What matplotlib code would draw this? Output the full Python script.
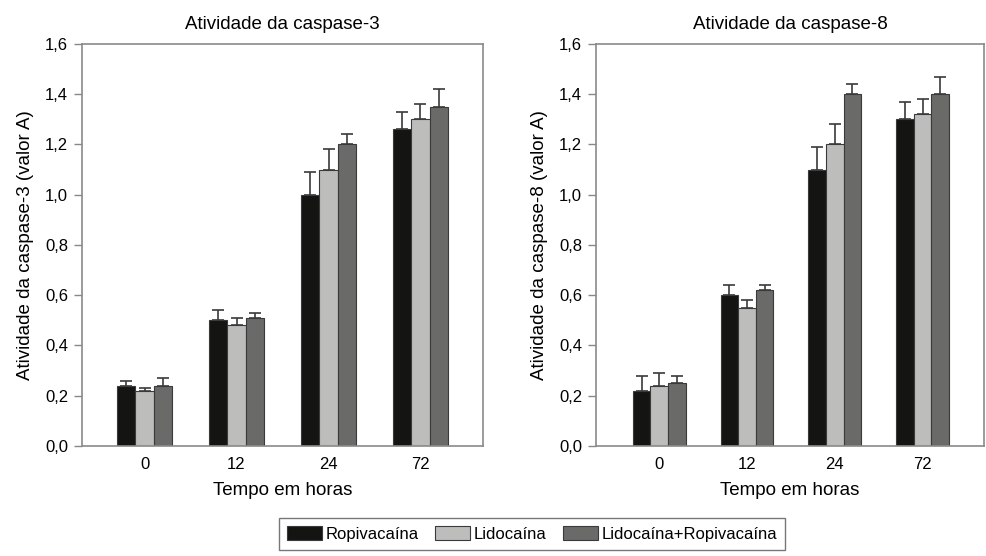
import numpy as np
import matplotlib
matplotlib.use("Agg")
import matplotlib.pyplot as plt

plt.rcParams['font.family'] = ['Liberation Sans', 'DejaVu Sans']

tempos = ['0', '12', '24', '72']
grupos = ['Ropivacaína', 'Lidocaína', 'Lidocaína+Ropivacaína']
cores = ['#141412', '#bdbdbb', '#6a6a68']

# caspase-3 (mean, upper error bar)
c3_ropi = [0.24, 0.50, 1.00, 1.26]
c3_lido = [0.22, 0.48, 1.10, 1.30]
c3_mix = [0.24, 0.51, 1.20, 1.35]
c3_ropi_err = [0.02, 0.04, 0.09, 0.07]
c3_lido_err = [0.01, 0.03, 0.08, 0.06]
c3_mix_err = [0.03, 0.02, 0.04, 0.07]

# caspase-8
c8_ropi = [0.22, 0.60, 1.10, 1.30]
c8_lido = [0.24, 0.55, 1.20, 1.32]
c8_mix = [0.25, 0.62, 1.40, 1.40]
c8_ropi_err = [0.06, 0.04, 0.09, 0.07]
c8_lido_err = [0.05, 0.03, 0.08, 0.06]
c8_mix_err = [0.03, 0.02, 0.04, 0.07]

fig = plt.figure(figsize=(9.86, 5.56), dpi=100)
ax1 = fig.add_axes([0.0832, 0.198, 0.4067, 0.723])
ax2 = fig.add_axes([0.6045, 0.198, 0.3935, 0.723])

x = np.arange(len(tempos))
w = 0.2


def painel(ax, series, erros, titulo, ylabel, xlim):
    for i, (vals, errs) in enumerate(zip(series, erros)):
        ax.bar(x + (i - 1) * w, vals, w, color=cores[i], edgecolor='#3a3a3a',
               linewidth=0.8, label=grupos[i],
               yerr=[np.zeros(len(errs)), errs], capsize=4.5,
               error_kw=dict(ecolor='#3a3a3a', elinewidth=1.2, capthick=1.2))
    ax.set_ylim(0, 1.6)
    ax.set_xlim(*xlim)
    ax.set_yticks(np.arange(0, 1.61, 0.2))
    ax.set_yticklabels([f'{v:.1f}'.replace('.', ',') for v in np.arange(0, 1.61, 0.2)])
    ax.set_xticks(x)
    ax.set_xticklabels(tempos)
    ax.tick_params(axis='x', length=0, labelsize=12, pad=8)
    ax.tick_params(axis='y', length=6, width=1.0, color='#888888', labelsize=12, pad=4)
    for s in ax.spines.values():
        s.set_color('#8a8a8a')
        s.set_linewidth(1.2)
    ax.set_title(titulo, fontsize=13.5, pad=11)
    ax.set_ylabel(ylabel, fontsize=13.5, labelpad=8)
    ax.set_xlabel('Tempo em horas', fontsize=13.5, labelpad=7)


painel(ax1, [c3_ropi, c3_lido, c3_mix], [c3_ropi_err, c3_lido_err, c3_mix_err],
       'Atividade da caspase-3', 'Atividade da caspase-3 (valor A)', (-0.68, 3.68))
painel(ax2, [c8_ropi, c8_lido, c8_mix], [c8_ropi_err, c8_lido_err, c8_mix_err],
       'Atividade da caspase-8', 'Atividade da caspase-8 (valor A)', (-0.72, 3.70))

handles, labels = ax1.get_legend_handles_labels()
leg = fig.legend(handles, labels, loc='upper center', bbox_to_anchor=(0.5396, 0.0683),
                 ncol=3, frameon=True, fancybox=False, fontsize=12,
                 handlelength=2.1, handleheight=0.85, handletextpad=0.2,
                 columnspacing=1.0, borderpad=0.5, borderaxespad=0)
leg.get_frame().set_edgecolor('#555555')
leg.get_frame().set_linewidth(1.0)

fig.savefig('out.png', dpi=100)
